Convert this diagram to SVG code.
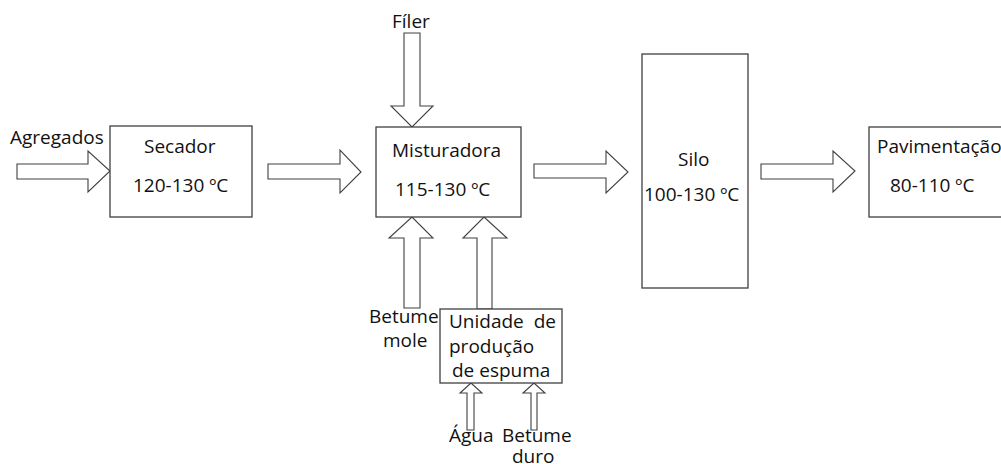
<svg xmlns="http://www.w3.org/2000/svg" width="1001" height="464" viewBox="0 0 1001 464">
<style>
.box{fill:#fff;stroke:#404040;stroke-width:1.3}
.arr{fill:#fff;stroke:#404040;stroke-width:1.1;stroke-linejoin:miter}
text{font-family:"Open Sans","Liberation Sans",sans-serif;font-size:19px;fill:#111}
</style>
<rect width="1001" height="464" fill="#fff"/>
<g id="connectors">
<polygon class="arr" points="17,164 88,164 88,151 110,171 88,192 88,179 17,179"/>
<polygon class="arr" points="268,164 340,164 340,150 361,172 340,193 340,179 268,179"/>
<polygon class="arr" points="534,164 606,164 606,151 628,172 606,193 606,178 534,178"/>
<polygon class="arr" points="761,164 833,164 833,151 855,171 833,192 833,179 761,179"/>
<polygon class="arr" points="404,33 420,33 420,106 433,106 412,127 391,106 404,106"/>
<polygon class="arr" points="404,308 404,238 389,238 412,217 433,238 420,238 420,308"/>
<polygon class="arr" points="477,309 477,238 463,238 484,217 507,238 492,238 492,309"/>
<polygon class="arr" points="467,430 467,393 460,393 471,383 482,393 474,393 474,430"/>
<polygon class="arr" points="531,430 531,393 523,393 534,383 545,393 537,393 537,430"/>
</g>
<g id="agregados"><text x="10" y="144">Agregados</text></g>
<g id="filer"><text x="392" y="28">Fíler</text></g>
<g id="betume-mole"><text x="369" y="323">Betume</text><text x="383" y="347">mole</text></g>
<g id="agua"><text x="449" y="442">Água</text></g>
<g id="betume-duro"><text x="502" y="442">Betume</text><text x="512" y="463">duro</text></g>
<g id="secador">
<rect class="box" x="110" y="126" width="142" height="91"/>
<text x="144" y="153">Secador</text>
<text x="133" y="192">120-130 ºC</text>
</g>
<g id="misturadora">
<rect class="box" x="376" y="127" width="145" height="90"/>
<text x="392" y="157">Misturadora</text>
<text x="395" y="196">115-130 ºC</text>
</g>
<g id="unidade">
<rect class="box" x="440" y="309" width="122" height="74"/>
<text x="449" y="328" xml:space="preserve">Unidade  de</text>
<text x="449" y="353">produção</text>
<text x="452" y="377">de espuma</text>
</g>
<g id="silo">
<rect class="box" x="642" y="54" width="106" height="234"/>
<text x="678" y="166">Silo</text>
<text x="644" y="201">100-130 ºC</text>
</g>
<g id="pavimentacao">
<rect class="box" x="869" y="127" width="140" height="90"/>
<text x="877" y="153">Pavimentação</text>
<text x="890" y="192">80-110 ºC</text>
</g>
</svg>
